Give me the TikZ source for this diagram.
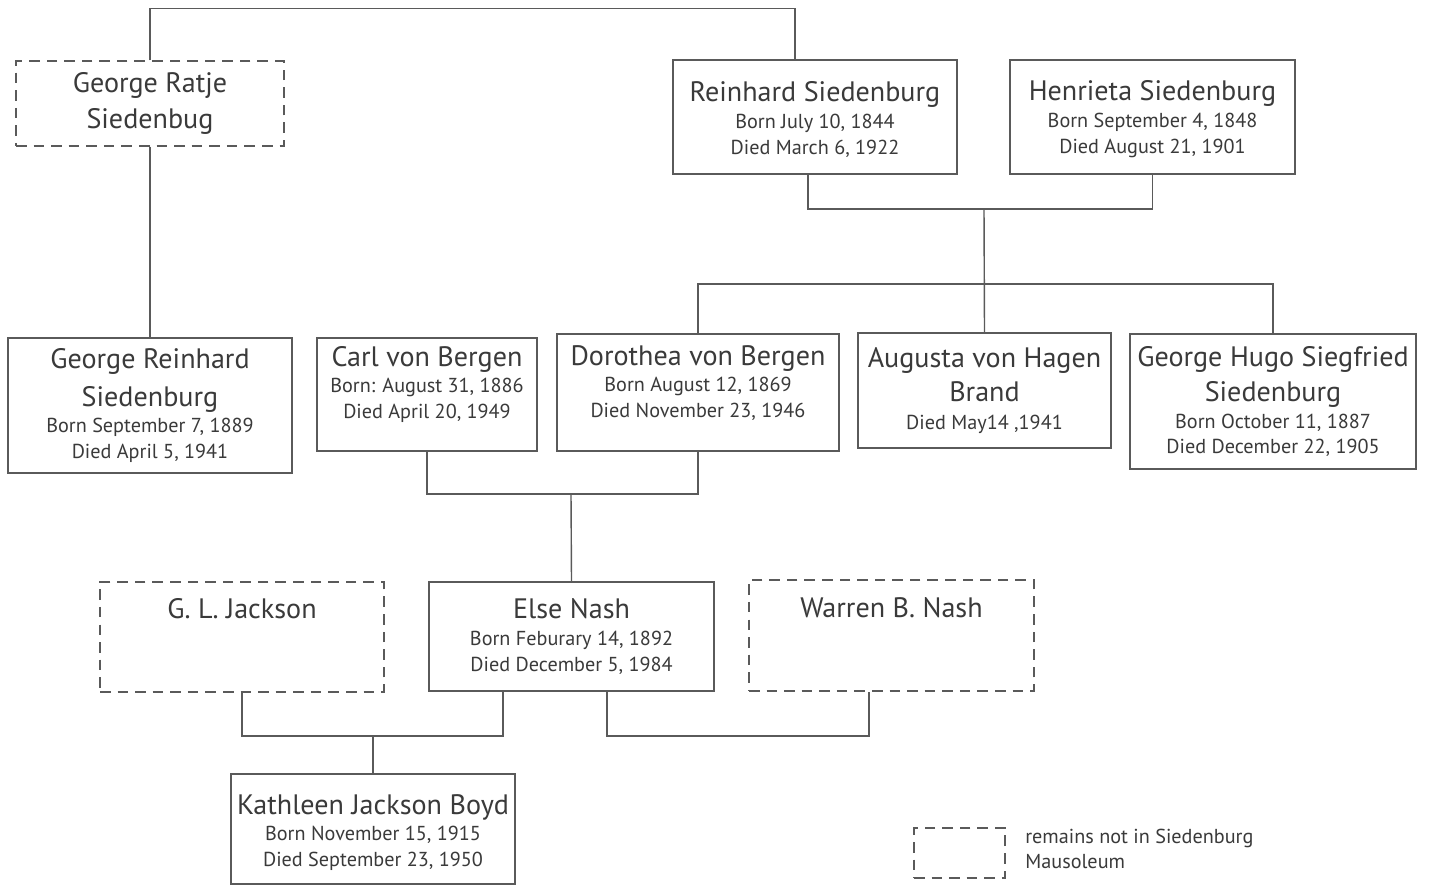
\documentclass[tikz,border=0pt]{standalone}
\usepackage{fontspec}
\setmainfont{PT Sans}
\usetikzlibrary{positioning}
\definecolor{boxline}{HTML}{5A5A5A}
\definecolor{ink}{HTML}{3A3A3A}
\newcommand{\nm}{\fontsize{16}{21}\selectfont}
\newcommand{\dt}{\fontsize{11.5}{14.7}\selectfont}

\begin{document}
\begin{tikzpicture}[x=0.02cm, y=-0.02cm,
    person/.style={draw=boxline, line width=0.8pt, inner sep=0pt, align=center, text=ink, font=\dt},
    away/.style={person, dash pattern=on 6pt off 4pt},
    words/.style={inner sep=0pt, align=center, text=ink, font=\dt},
    link/.style={draw=boxline, line width=0.8pt}]
        \fill[white] (0,0) rectangle (1430,886);

        % Parents generation
        \node[away, minimum width=5.36cm, minimum height=1.70cm] (ratje) at (150,103.5)
            {{\nm George Ratje}\\[4.5pt]{\nm Siedenbug}};
        \node[person, minimum width=5.68cm, minimum height=2.28cm] (reinhard) at (815,117) {};
        \node[words, anchor=north] (reinhardtext) at (815,81)
            {{\nm Reinhard Siedenburg}\\[0.8pt]Born July 10, 1844\\Died March 6, 1922};
        \node[person, minimum width=5.70cm, minimum height=2.28cm] (henrieta) at (1152.5,117) {};
        \node[words, anchor=north] (henrietatext) at (1152.5,80)
            {{\nm Henrieta Siedenburg}\\[0.8pt]Born September 4, 1848\\Died August 21, 1901};

        % Children generation
        \node[person, minimum width=5.68cm, minimum height=2.70cm] (georgeR) at (150,405.5)
            {{\nm George Reinhard}\\[5.5pt]{\nm Siedenburg}\\[0.3pt]Born September 7, 1889\\Died April 5, 1941};
        \node[person, minimum width=4.40cm, minimum height=2.26cm] (carl) at (427,394.5) {};
        \node[words, anchor=north] (carltext) at (427,346)
            {{\nm Carl von Bergen}\\[0.3pt]Born: August 31, 1886\\Died April 20, 1949};
        \node[person, minimum width=5.64cm, minimum height=2.34cm] (dorothea) at (698,392.5) {};
        \node[words, anchor=north] (dorotheatext) at (698,345)
            {{\nm Dorothea von Bergen}\\[0.3pt]Born August 12, 1869\\Died November 23, 1946};
        \node[person, minimum width=5.06cm, minimum height=2.30cm] (augusta) at (984.5,390.5)
            {{\nm Augusta von Hagen}\\[4pt]{\nm Brand}\\[1pt]Died May14 ,1941};
        \node[person, minimum width=5.72cm, minimum height=2.70cm] (hugo) at (1273,401.5)
            {{\nm George Hugo Siegfried}\\[4.5pt]{\nm Siedenburg}\\[0.3pt]Born October 11, 1887\\Died December 22, 1905};

        % Grandchildren generation
        \node[away, minimum width=5.68cm, minimum height=2.20cm] (gljackson) at (242,637) {};
        \node[words, anchor=north] (gljacksontext) at (242,598) {\nm G. L. Jackson};
        \node[person, minimum width=5.70cm, minimum height=2.18cm] (else) at (571.5,636.5)
            {{\nm Else Nash}\\[0.3pt]Born Feburary 14, 1892\\Died December 5, 1984};
        \node[away, minimum width=5.70cm, minimum height=2.22cm] (warren) at (891.5,635.5) {};
        \node[words, anchor=north] (warrentext) at (891.5,597) {\nm Warren B. Nash};
        \node[person, minimum width=5.68cm, minimum height=2.20cm] (kathleen) at (373,829) {};
        \node[words, anchor=north] (kathleentext) at (373,794)
            {{\nm Kathleen Jackson Boyd}\\[0.3pt]Born November 15, 1915\\Died September 23, 1950};

        % Legend
        \node[away, minimum width=1.82cm, minimum height=1.00cm] (legendbox) at (959.5,853) {};
        \node[words, align=left, anchor=west] (legendtext) at (1025,849)
            {remains not in Siedenburg\\Mausoleum};

        % Bars between couples and children
        \coordinate (parents) at (984,209);
        \coordinate (kids) at (984,284);
        \coordinate (bergen) at (571,494);
        \coordinate (jackson) at (373,736);
        \coordinate (nash) at (738,736);

        \draw[link] (ratje.north) -- ++(0,-52) -| ([xshift=-0.4cm]reinhard.north);
        \draw[link] (ratje.south) -- (georgeR.north);
        \draw[link] ([xshift=-0.14cm]reinhard.south) |- (parents) -| (henrieta.south);
        \draw[link] (parents) -- (augusta.north);
        \draw[link] (dorothea.north) |- (kids) -| (hugo.north);
        \draw[link] (carl.south) |- (bergen) -| (dorothea.south);
        \draw[link] (bergen) -- (else.north);
        \draw[link] (gljackson.south) |- (jackson) -| ([xshift=-1.37cm]else.south);
        \draw[link] (jackson) -- (kathleen.north);
        \draw[link] ([xshift=0.71cm]else.south) |- (nash) -| ([xshift=-0.45cm]warren.south);
    \end{tikzpicture}
\end{document}
